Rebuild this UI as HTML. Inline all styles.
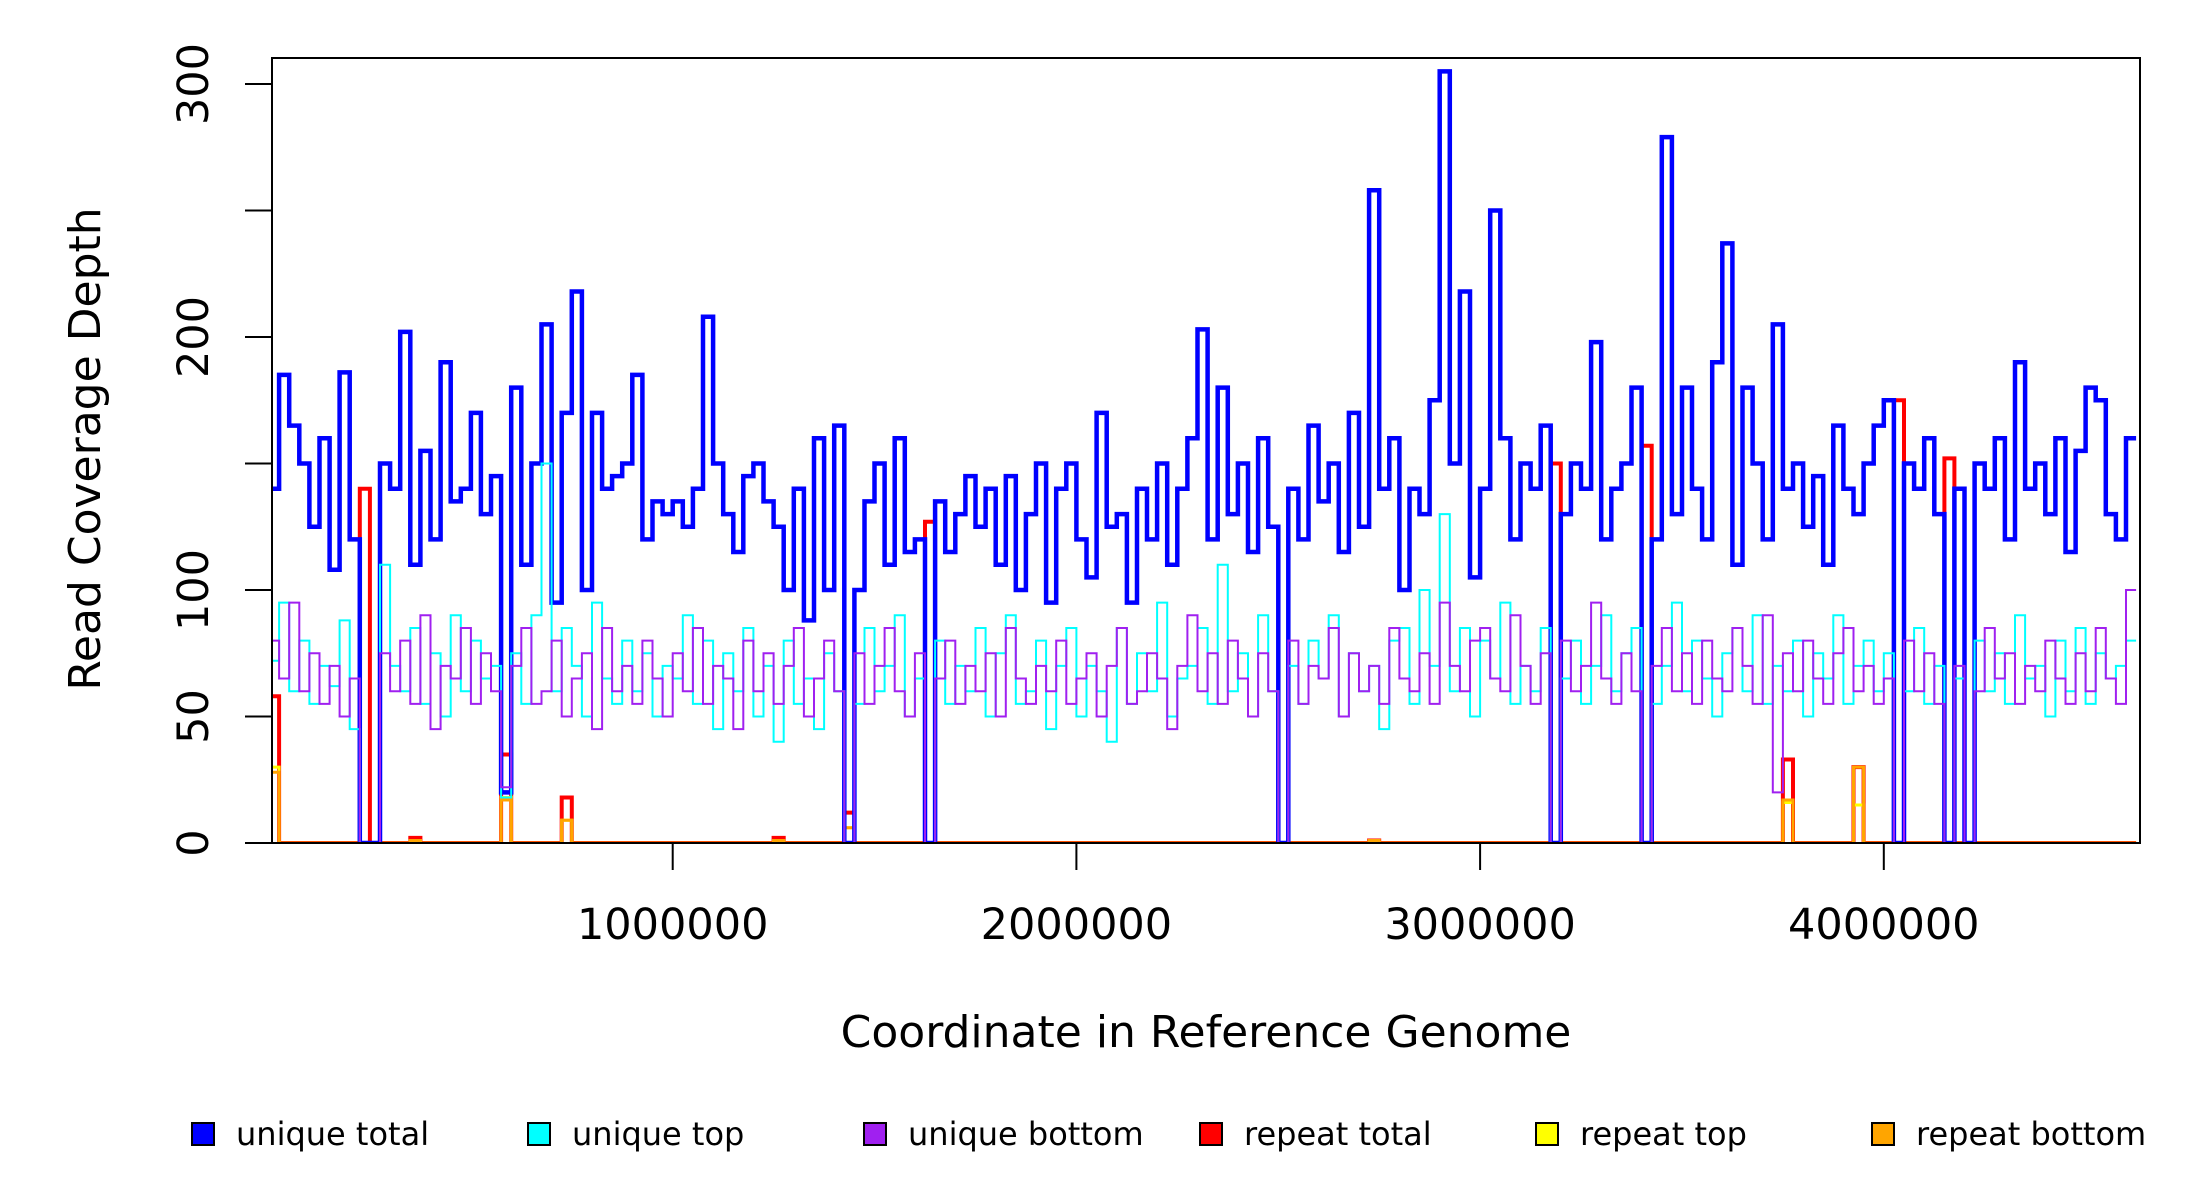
<!DOCTYPE html>
<html><head><meta charset="utf-8"><style>
html,body{margin:0;padding:0;background:#fff;}
svg{display:block;font-family:"DejaVu Sans","Liberation Sans",sans-serif;}
</style></head><body>
<svg id="chart" width="2200" height="1200" viewBox="0 0 2200 1200" xmlns="http://www.w3.org/2000/svg">
<defs><clipPath id="plotclip"><rect x="272" y="58" width="1868" height="786"/></clipPath></defs>
<g id="series" clip-path="url(#plotclip)"></g>
<rect x="272" y="58" width="1868" height="785" fill="none" stroke="#000" stroke-width="2"/>
<g id="yaxis"></g>
<g id="xaxis"></g>
<text x="100" y="449" transform="rotate(-90 100 449)" text-anchor="middle" font-size="44">Read Coverage Depth</text>
<text x="1206" y="1047" text-anchor="middle" font-size="44">Coordinate in Reference Genome</text>
<g id="legend"></g>
</svg>
<script>
const binSize = 25000;
const uniqueTotal = [140,185,165,150,125,160,108,186,120,0,0,150,140,202,110,155,120,190,135,140,170,130,145,20,180,110,150,205,95,170,218,100,170,140,145,150,185,120,135,130,
135,125,140,208,150,130,115,145,150,135,125,100,140,88,160,100,165,0,100,135,150,110,160,115,120,0,135,115,130,145,125,140,110,145,100,130,150,95,140,150,
120,105,170,125,130,95,140,120,150,110,140,160,203,120,180,130,150,115,160,125,0,140,120,165,135,150,115,170,125,258,140,160,100,140,130,175,305,150,218,105,
140,250,160,120,150,140,165,0,130,150,140,198,120,140,150,180,0,120,279,130,180,140,120,190,237,110,180,150,120,205,140,150,125,145,110,165,140,130,150,165,
175,0,150,140,160,130,0,140,0,150,140,160,120,190,140,150,130,160,115,155,180,175,130,120,160];
const uniqueTop = [72,95,60,80,55,70,62,88,45,0,0,110,70,60,85,55,75,50,90,60,80,65,70,18,75,55,90,150,60,85,70,50,95,65,55,80,60,75,50,70,
65,90,55,80,45,75,60,85,50,70,40,80,55,65,45,75,60,0,55,85,60,70,90,50,65,0,80,55,70,60,85,50,75,90,55,60,80,45,70,85,
50,70,60,40,85,55,75,60,95,50,65,70,85,55,110,60,75,50,90,60,0,70,55,80,65,90,50,75,60,70,45,80,85,55,100,70,130,60,85,50,
80,65,95,55,70,60,85,0,65,80,55,70,90,60,75,85,0,55,70,95,60,80,65,50,75,85,60,90,55,70,60,80,50,75,65,90,55,70,80,60,
75,0,60,85,55,70,0,65,0,80,60,75,55,90,65,70,50,80,60,85,55,75,65,70,80];
const uniqueBottom = [80,65,95,60,75,55,70,50,65,0,0,75,60,80,55,90,45,70,65,85,55,75,60,22,70,85,55,60,80,50,65,75,45,85,60,70,55,80,65,50,
75,60,85,55,70,65,45,80,60,75,55,70,85,50,65,80,60,0,75,55,70,85,60,50,75,0,65,80,55,70,60,75,50,85,65,55,70,60,80,55,
65,75,50,70,85,55,60,75,65,45,70,90,60,75,55,80,65,50,75,60,0,80,55,70,65,85,50,75,60,70,55,85,65,60,75,55,95,70,60,80,
85,65,60,90,70,55,75,0,80,60,70,95,65,55,75,60,0,70,85,60,75,55,80,65,60,85,70,55,90,20,75,60,80,65,55,75,85,60,70,55,
65,0,80,60,75,55,0,70,0,60,85,65,75,55,70,60,80,65,55,75,60,85,65,55,100];
const repeatTotal = [58,0,0,0,0,0,0,0,0,140,0,0,0,0,2,0,0,0,0,0,0,0,0,35,0,0,0,0,0,18,0,0,0,0,0,0,0,0,0,0,
0,0,0,0,0,0,0,0,0,0,2,0,0,0,0,0,0,12,0,0,0,0,0,0,0,127,0,0,0,0,0,0,0,0,0,0,0,0,0,0,
0,0,0,0,0,0,0,0,0,0,0,0,0,0,0,0,0,0,0,0,0,0,0,0,0,0,0,0,0,1,0,0,0,0,0,0,0,0,0,0,
0,0,0,0,0,0,0,150,0,0,0,0,0,0,0,0,157,0,0,0,0,0,0,0,0,0,0,0,0,0,33,0,0,0,0,0,0,30,0,0,
0,175,0,0,0,0,152,0,0,0,0,0,0,0,0,0,0,0,0,0,0,0,0,0,0];
const repeatTop = [30,0,0,0,0,0,0,0,0,0,0,0,0,0,1,0,0,0,0,0,0,0,0,18,0,0,0,0,0,9,0,0,0,0,0,0,0,0,0,0,
0,0,0,0,0,0,0,0,0,0,1,0,0,0,0,0,0,6,0,0,0,0,0,0,0,0,0,0,0,0,0,0,0,0,0,0,0,0,0,0,
0,0,0,0,0,0,0,0,0,0,0,0,0,0,0,0,0,0,0,0,0,0,0,0,0,0,0,0,0,0,0,0,0,0,0,0,0,0,0,0,
0,0,0,0,0,0,0,0,0,0,0,0,0,0,0,0,0,0,0,0,0,0,0,0,0,0,0,0,0,0,16,0,0,0,0,0,0,15,0,0,
0,0,0,0,0,0,0,0,0,0,0,0,0,0,0,0,0,0,0,0,0,0,0,0,0];
const repeatBottom = [28,0,0,0,0,0,0,0,0,0,0,0,0,0,1,0,0,0,0,0,0,0,0,17,0,0,0,0,0,9,0,0,0,0,0,0,0,0,0,0,
0,0,0,0,0,0,0,0,0,0,1,0,0,0,0,0,0,6,0,0,0,0,0,0,0,0,0,0,0,0,0,0,0,0,0,0,0,0,0,0,
0,0,0,0,0,0,0,0,0,0,0,0,0,0,0,0,0,0,0,0,0,0,0,0,0,0,0,0,0,1,0,0,0,0,0,0,0,0,0,0,
0,0,0,0,0,0,0,0,0,0,0,0,0,0,0,0,0,0,0,0,0,0,0,0,0,0,0,0,0,0,17,0,0,0,0,0,0,30,0,0,
0,0,0,0,0,0,0,0,0,0,0,0,0,0,0,0,0,0,0,0,0,0,0,0,0];
const yTicks = [0,50,100,150,200,250,300];
const yTickLabels = ["0","50","100","","200","","300"];
const xTicks = [1000000,2000000,3000000,4000000];
const xTickLabels = ["1000000","2000000","3000000","4000000"];
const legendLabels = ["unique total","unique top","unique bottom","repeat total","repeat top","repeat bottom"];
const legendColors = ["#0000ff","#00ffff","#a020f0","#ff0000","#ffff00","#ffa500"];

const NS = "http://www.w3.org/2000/svg";
const xs = v => 269 + v / 1000000 * 403.7;
const ys = v => 843 - v * (843 - 84) / 300;

function stepPath(vals) {
  let d = "";
  for (let i = 0; i < vals.length; i++) {
    const x0 = xs(i * binSize), x1 = xs((i + 1) * binSize), y = ys(vals[i]);
    d += (i === 0 ? "M" + x0.toFixed(1) + "," + y.toFixed(1) : "V" + y.toFixed(1)) + "H" + x1.toFixed(1);
  }
  return d;
}
const series = document.getElementById("series");
const seriesDefs = [
  [repeatTotal, "#ff0000", 4, "repeat-total-line"],
  [repeatTop, "#ffff00", 3, "repeat-top-line"],
  [repeatBottom, "#ffa500", 3, "repeat-bottom-line"],
  [uniqueTotal, "#0000ff", 4.5, "unique-total-line"],
  [uniqueTop, "#00ffff", 2, "unique-top-line"],
  [uniqueBottom, "#a020f0", 2, "unique-bottom-line"]
];
seriesDefs.forEach(s => {
  const p = document.createElementNS(NS, "path");
  p.setAttribute("d", stepPath(s[0]));
  p.setAttribute("fill", "none");
  p.setAttribute("stroke", s[1]);
  p.setAttribute("stroke-width", s[2]);
  p.setAttribute("stroke-linejoin", "miter");
  
  
  series.appendChild(p);
});

const yaxis = document.getElementById("yaxis");
yTicks.forEach((t, i) => {
  const y = ys(t);
  const l = document.createElementNS(NS, "line");
  l.setAttribute("x1", 245); l.setAttribute("x2", 272);
  l.setAttribute("y1", y); l.setAttribute("y2", y);
  l.setAttribute("stroke", "#000"); l.setAttribute("stroke-width", 2);
  
  
  yaxis.appendChild(l);
  if (yTickLabels[i]) {
    const tx = document.createElementNS(NS, "text");
    tx.setAttribute("x", 208); tx.setAttribute("y", y);
    tx.setAttribute("transform", "rotate(-90 208 " + y + ")");
    tx.setAttribute("text-anchor", "middle");
    tx.setAttribute("font-size", 43);
    tx.textContent = yTickLabels[i];
    
    
    yaxis.appendChild(tx);
  }
});
const xaxis = document.getElementById("xaxis");
xTicks.forEach((t, i) => {
  const x = xs(t);
  const l = document.createElementNS(NS, "line");
  l.setAttribute("x1", x); l.setAttribute("x2", x);
  l.setAttribute("y1", 843); l.setAttribute("y2", 870);
  l.setAttribute("stroke", "#000"); l.setAttribute("stroke-width", 2);
  
  
  xaxis.appendChild(l);
  const tx = document.createElementNS(NS, "text");
  tx.setAttribute("x", x); tx.setAttribute("y", 939);
  tx.setAttribute("text-anchor", "middle");
  tx.setAttribute("font-size", 43);
  tx.textContent = xTickLabels[i];
  
  
  xaxis.appendChild(tx);
});
const legend = document.getElementById("legend");
const legX = [192, 528, 864, 1200, 1536, 1872];
legendLabels.forEach((lab, i) => {
  const g = document.createElementNS(NS, "g");
  
  
  const r = document.createElementNS(NS, "rect");
  r.setAttribute("x", legX[i]); r.setAttribute("y", 1123);
  r.setAttribute("width", 22); r.setAttribute("height", 22);
  r.setAttribute("fill", legendColors[i]); r.setAttribute("stroke", "#000"); r.setAttribute("stroke-width", 2);
  
  
  g.appendChild(r);
  const tx = document.createElementNS(NS, "text");
  tx.setAttribute("x", legX[i] + 44); tx.setAttribute("y", 1145);
  tx.setAttribute("font-size", 32);
  tx.textContent = lab;
  
  
  g.appendChild(tx);
  legend.appendChild(g);
});
</script>
</body></html>
